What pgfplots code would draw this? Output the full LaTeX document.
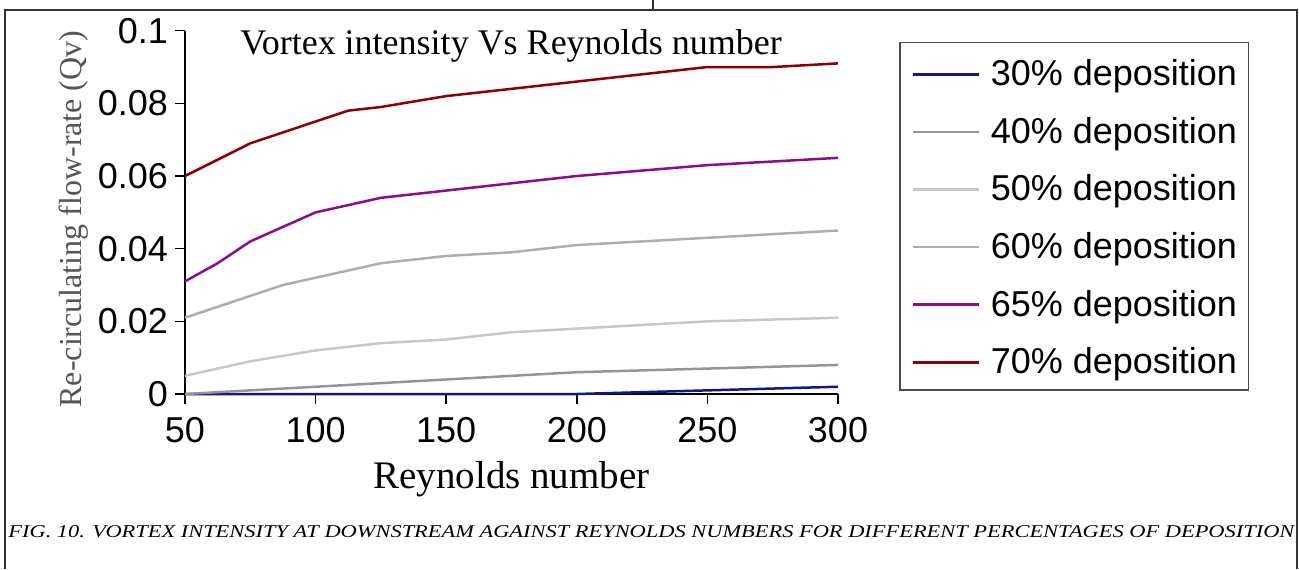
\documentclass[border=0pt]{standalone}
\usepackage{fontspec}
\setmainfont{Liberation Sans}
\newfontfamily\serif{Liberation Serif}
\usepackage{graphicx}
\usepackage{pgfplots}
\pgfplotsset{compat=1.18}

\definecolor{c30}{HTML}{14148C}
\definecolor{c40}{HTML}{959595}
\definecolor{c50}{HTML}{C8C8C8}
\definecolor{c60}{HTML}{ADADAD}
\definecolor{c65}{HTML}{8E0A8E}
\definecolor{c70}{HTML}{8B0000}
\definecolor{frame}{HTML}{333333}
\definecolor{ylab}{HTML}{555555}

\begin{document}
\begin{tikzpicture}
\path[use as bounding box] (0,0) rectangle (649.5pt,284.5pt);
% frame
\draw[frame, line width=1pt] (2.35pt,0pt) -- (2.35pt,279.5pt) -- (648.5pt,279.5pt) -- (648.5pt,0pt);
\draw[frame, line width=1pt] (326.5pt,279.5pt) -- (326.5pt,284.5pt);

\begin{axis}[
  at={(92.5pt,87.5pt)}, anchor=south west,
  scale only axis, width=326.5pt, height=181.65pt,
  xmin=50, xmax=300, ymin=0, ymax=0.1,
  axis lines*=left,
  axis line style={line width=0.75pt, -},
  xtick={50,100,150,200,250,300},
  ytick={0,0.02,0.04,0.06,0.08,0.1},
  yticklabels={0,0.02,0.04,0.06,0.08,0.1},
  tick align=outside, major tick length=5pt,
  tick style={black, line width=0.75pt},
  ticklabel style={font=\fontsize{18}{20}\selectfont},
  xticklabel style={yshift=-3pt},
  /pgf/number format/assume math mode=true,
  scaled y ticks=false,
  clip=false,
  legend style={at={(1.0934,0.9689)}, anchor=north west,
    draw=black!70, line width=0.75pt,
    font=\fontsize{18}{20}\selectfont,
    inner xsep=5.75pt, inner ysep=7.5pt,
    nodes={inner sep=0pt, text height=14pt, text depth=0.5pt},
    row sep=14.3pt},
  legend cell align=left,
  /tikz/every odd column/.append style={column sep=5.5pt},
  legend image code/.code={\draw[#1, line width=1.25pt] (0pt,-1pt) -- (33pt,-1pt);},
]
\addplot[c30, line width=1.25pt] coordinates {(50,0) (75,0) (100,0) (125,0) (150,0) (175,0) (200,0) (250,0.001) (300,0.002)};
\addlegendentry{30\% deposition}
\addplot[c40, line width=1.25pt] coordinates {(50,0) (75,0.001) (100,0.002) (125,0.003) (150,0.004) (175,0.005) (200,0.006) (250,0.007) (300,0.008)};
\addlegendentry{40\% deposition}
\addplot[c50, line width=1.25pt] coordinates {(50,0.005) (75,0.009) (100,0.012) (125,0.014) (150,0.015) (175,0.017) (200,0.018) (250,0.020) (300,0.021)};
\addlegendentry{50\% deposition}
\addplot[c60, line width=1.25pt] coordinates {(50,0.021) (75,0.027) (87.5,0.030) (100,0.032) (125,0.036) (150,0.038) (175,0.039) (200,0.041) (250,0.043) (300,0.045)};
\addlegendentry{60\% deposition}
\addplot[c65, line width=1.25pt] coordinates {(50,0.031) (62.5,0.036) (75,0.042) (100,0.050) (112.5,0.052) (125,0.054) (150,0.056) (175,0.058) (200,0.060) (250,0.063) (300,0.065)};
\addlegendentry{65\% deposition}
\addplot[c70, line width=1.25pt] coordinates {(50,0.060) (75,0.069) (87.5,0.072) (100,0.075) (112.5,0.078) (125,0.079) (150,0.082) (175,0.084) (200,0.086) (250,0.090) (275,0.090) (300,0.091)};
\addlegendentry{70\% deposition}
\end{axis}

% title
\node[anchor=base west, inner sep=0pt, font=\serif\fontsize{18}{20}\selectfont] at (120pt,257.25pt) {Vortex intensity Vs Reynolds number};
% x label
\node[anchor=base, inner sep=0pt, font=\serif\fontsize{19.5}{22}\selectfont] at (255.75pt,40.5pt) {Reynolds number};
% y label
\node[anchor=base, rotate=90, inner sep=0pt, text=ylab, font=\serif\fontsize{16}{18}\selectfont] at (40.5pt,175pt) {Re-circulating flow-rate (Qv)};
% caption
\node[anchor=base west, inner sep=0pt] at (4pt,16pt) {\resizebox{643pt}{6pt}{\serif\itshape FIG. 10. VORTEX INTENSITY AT DOWNSTREAM AGAINST REYNOLDS NUMBERS FOR DIFFERENT PERCENTAGES OF DEPOSITION}};
\end{tikzpicture}
\end{document}
